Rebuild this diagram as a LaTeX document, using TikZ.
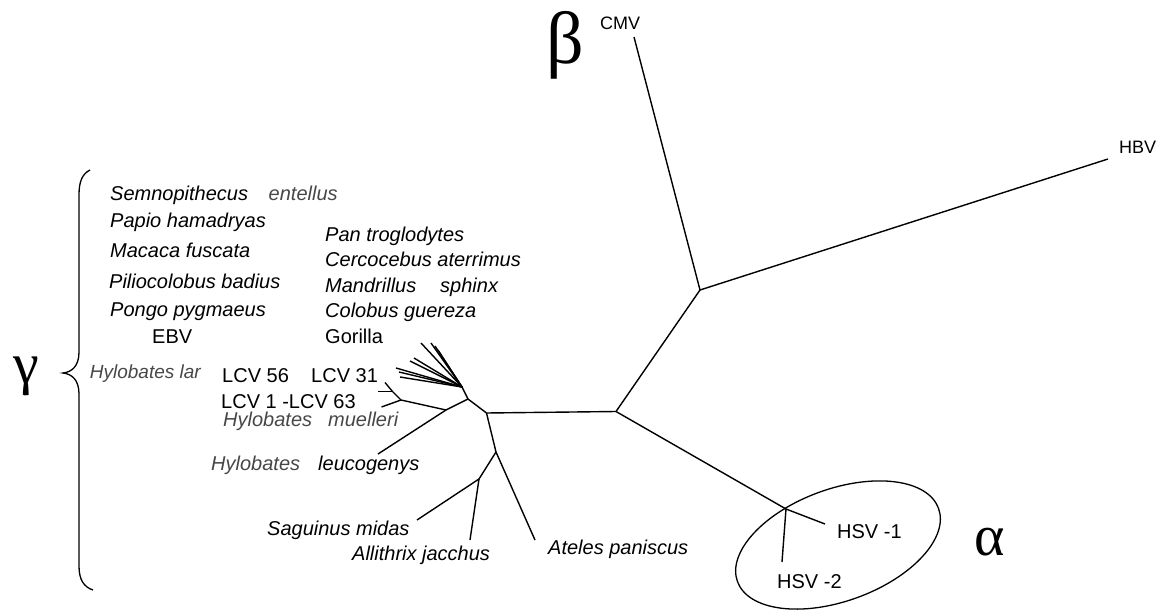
\documentclass[tikz,border=0pt]{standalone}
\usepackage{fontspec}
\setmainfont{Liberation Sans}
\newfontfamily\greekfont{Liberation Serif}
\begin{document}
\begin{tikzpicture}[x=1pt,y=-1pt,
  edge/.style={line width=1.4pt},
  sp/.style={anchor=base west, inner sep=0pt, font=\fontsize{20}{24}\selectfont\itshape},
  spg/.style={sp, text=black!72},
  vir/.style={anchor=base west, inner sep=0pt, font=\fontsize{20}{24}\selectfont},
  virs/.style={anchor=base west, inner sep=0pt, font=\fontsize{18}{22}\selectfont},
  grk/.style={anchor=base west, inner sep=0pt, font=\fontsize{58}{62}\selectfont\greekfont}]
\useasboundingbox (0,0) rectangle (1160,610);

% ---- labels, left column
\node[sp]  (semno) at (110,200) {Semnopithecus};
\node[spg] (entel) at (268.5,200) {entellus};
\node[sp]  (papio) at (110,227) {Papio hamadryas};
\node[sp]  (macaca) at (110,257) {Macaca fuscata};
\node[sp]  (pilio) at (109,288) {Piliocolobus badius};
\node[sp]  (pongo) at (110,316) {Pongo pygmaeus};
\node[vir] (ebv) at (152,343) {EBV};
% ---- labels, right column
\node[sp]  (pan) at (325,241) {Pan troglodytes};
\node[sp]  (cerco) at (325,266) {Cercocebus aterrimus};
\node[sp]  (mandr) at (325,292) {Mandrillus};
\node[sp]  (sphinx) at (440,292) {sphinx};
\node[sp]  (colob) at (325,317) {Colobus guereza};
\node[vir] (gor) at (325,343) {Gorilla};
% ---- gibbons
\node[spg, anchor=base east, font=\fontsize{19}{23}\selectfont\itshape] (hlar) at (201,378) {Hylobates lar};
\node[vir] (lcv56) at (222,382) {LCV 56};
\node[vir] (lcv31) at (311,382) {LCV 31};
\node[vir] (lcv1) at (221,408) {LCV 1 -LCV 63};
\node[spg] (hmue1) at (223,426) {Hylobates};
\node[spg] (hmue2) at (328,426) {muelleri};
\node[spg] (hleu1) at (211,470) {Hylobates};
\node[sp]  (hleu2) at (318,470) {leucogenys};
% ---- New World
\node[sp] (sag) at (267,535) {Saguinus midas};
\node[sp] (alli) at (352,560) {Allithrix jacchus};
\node[sp] (ateles) at (548,554) {Ateles paniscus};
% ---- other viruses
\node[vir]  (hsv1) at (837,538) {HSV -1};
\node[vir]  (hsv2) at (777,588) {HSV -2};
\node[virs] (cmv) at (600,30) {CMV};
\node[virs] (hbv) at (1119,153) {HBV};
% ---- greek
\node[grk, font=\fontsize{74}{78}\selectfont\greekfont] (beta) at (546,64) {β};
\node[grk] (gamma) at (13,383) {γ};
\node[grk] (alpha) at (974,555) {α};

% ---- tree points
\coordinate (hub) at (462,387);
\coordinate (j1) at (468,399);
\coordinate (j0) at (486.5,413);
\coordinate (j2) at (446,410);
\coordinate (j3) at (401,400);
\coordinate (j3a) at (385,382.5);
\coordinate (j3b) at (392.5,391.5);
\coordinate (stub) at (378,391.5);
\coordinate (lcv1end) at (381.5,407);
\coordinate (leucend) at (378,454);
\coordinate (a) at (616,411.5);
\coordinate (b) at (700,290);
\coordinate (cmvend) at (634,37);
\coordinate (hbvend) at (1108,159);
\coordinate (h) at (786,509);
\coordinate (hsv1end) at (825,524);
\coordinate (hsv2end) at (782,562);
\coordinate (j4) at (496,452);
\coordinate (atend) at (535,540);
\coordinate (j5) at (479,479);
\coordinate (sagend) at (417,520);
\coordinate (allend) at (470,540);
\coordinate (f1) at (396,368);
\coordinate (f2) at (399,372);
\coordinate (f3) at (400,377);
\coordinate (f4) at (410,361);
\coordinate (f5) at (414,358);
\coordinate (f6) at (421,343);
\coordinate (f7) at (431,343);
\coordinate (f8) at (435,346);
\coordinate (f9) at (438,350);

% ---- tree edges
\draw[edge] (hub) -- (j1) -- (j0) -- (a) -- (b) -- (cmvend);
\draw[edge] (b) -- (hbvend);
\draw[edge] (a) -- (h) -- (hsv1end);
\draw[edge] (h) -- (hsv2end);
\draw[edge] (j1) -- (j2) -- (leucend);
\draw[edge] (j2) -- (j3) -- (lcv1end);
\draw[edge] (j3) -- (j3b) -- (j3a);
\draw[edge] (j3b) -- (stub);
\draw[edge] (j0) -- (j4) -- (atend);
\draw[edge] (j4) -- (j5) -- (sagend);
\draw[edge] (j5) -- (allend);
\foreach \f in {f1,f2,f3,f4,f5,f6,f7,f8,f9} \draw[edge] (hub) -- (\f);

% ---- alpha ellipse
\draw[line width=1.3pt, rotate around={20:(838,545)}] (838,545) ellipse [x radius=107pt, y radius=56pt];

% ---- gamma brace
\draw[line width=1.3pt] (90,170) .. controls (82,174) and (79,182) .. (79,195) -- (79,352)
  .. controls (79,366) and (72,372) .. (63,373)
  .. controls (72,374) and (79,380) .. (79,394) -- (79,566)
  .. controls (79,580) and (84,587) .. (93,590);
\end{tikzpicture}
\end{document}
